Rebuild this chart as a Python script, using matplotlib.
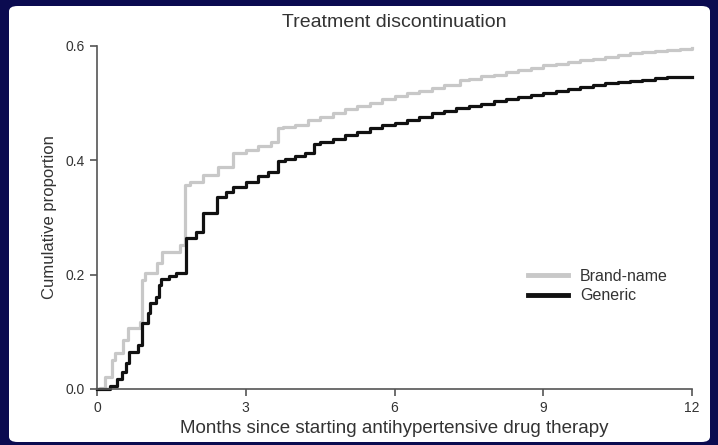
import matplotlib
matplotlib.use('Agg')
import matplotlib.pyplot as plt
from matplotlib.patches import FancyBboxPatch

# Cumulative proportion of treatment discontinuation
brand_t = [0, 0.06, 0.16, 0.30, 0.36, 0.52, 0.63, 0.87, 0.91, 0.97, 1.21, 1.31, 1.67, 1.77,
           1.88, 2.14, 2.44, 2.74, 3.0, 3.25, 3.5, 3.65, 3.75, 4.0, 4.25, 4.5, 4.75, 5.0, 5.25,
           5.5, 5.75, 6.0, 6.25, 6.5, 6.75, 7.0, 7.32, 7.5, 7.75, 8.0, 8.25, 8.5, 8.75, 9.0,
           9.25, 9.5, 9.75, 10.0, 10.25, 10.5, 10.75, 11.0, 11.25, 11.5, 11.75, 12.0]
brand_y = [0, 0.002, 0.021, 0.051, 0.063, 0.086, 0.107, 0.117, 0.19, 0.203, 0.220, 0.24, 0.252, 0.357,
           0.362, 0.375, 0.388, 0.413, 0.418, 0.425, 0.432, 0.456, 0.458, 0.462, 0.47, 0.476, 0.483, 0.489, 0.495,
           0.501, 0.507, 0.513, 0.518, 0.522, 0.527, 0.531, 0.54, 0.543, 0.547, 0.55, 0.554, 0.558, 0.562, 0.566,
           0.569, 0.572, 0.575, 0.578, 0.581, 0.584, 0.587, 0.589, 0.591, 0.593, 0.595, 0.597]

generic_t = [0, 0.26, 0.40, 0.50, 0.58, 0.64, 0.83, 0.90, 1.03, 1.07, 1.18, 1.25, 1.30, 1.45, 1.6,
             1.79, 2.0, 2.14, 2.42, 2.6, 2.74, 3.0, 3.25, 3.45, 3.65, 3.8, 4.0, 4.2, 4.38, 4.5,
             4.75, 5.0, 5.25, 5.5, 5.75, 6.0, 6.25, 6.5, 6.75, 7.0, 7.25, 7.5, 7.75, 8.0, 8.25,
             8.5, 8.75, 9.0, 9.25, 9.5, 9.75, 10.0, 10.25, 10.5, 10.75, 11.0, 11.25, 11.5, 12.0]
generic_y = [0, 0.006, 0.018, 0.03, 0.045, 0.065, 0.077, 0.115, 0.133, 0.15, 0.161, 0.182, 0.193, 0.198, 0.203,
             0.264, 0.275, 0.308, 0.336, 0.345, 0.353, 0.362, 0.372, 0.38, 0.398, 0.402, 0.407, 0.412, 0.428, 0.432,
             0.438, 0.444, 0.45, 0.456, 0.461, 0.466, 0.471, 0.476, 0.482, 0.487, 0.491, 0.495, 0.499, 0.503, 0.507,
             0.51, 0.514, 0.518, 0.522, 0.525, 0.529, 0.532, 0.535, 0.537, 0.539, 0.541, 0.544, 0.546, 0.546]

x_ticks = [0, 3, 6, 9, 12]
y_ticks = [0.0, 0.2, 0.4, 0.6]

plt.rcParams['font.family'] = ['Liberation Sans', 'DejaVu Sans']
txt = '#333333'

fig = plt.figure(figsize=(7.18, 4.45), dpi=100)
fig.patch.set_facecolor('#0b0b50')

# white slide panel, drawn on a background axes
bg = fig.add_axes([0, 0, 1, 1], zorder=-1)
bg.axis('off')
bg.add_patch(FancyBboxPatch((9 / 718, 3 / 445), 701 / 718, 436 / 445,
                            boxstyle='round,pad=0,rounding_size=0.012',
                            transform=bg.transAxes, facecolor='white', edgecolor='none'))

ax = fig.add_axes([97 / 718, 1 - 389 / 445, 595 / 718, 343 / 445], zorder=1)
ax.set_facecolor('none')

ax.step(brand_t, brand_y, where='post', color='#c8c8c8', lw=2.3, label='Brand-name', clip_on=False)
ax.step(generic_t, generic_y, where='post', color='#111111', lw=2.3, label='Generic', clip_on=False)

ax.set_xlim(0, 12)
ax.set_ylim(0, 0.6)
ax.set_xticks(x_ticks)
ax.set_yticks(y_ticks)
ax.set_yticklabels(['%.1f' % v for v in y_ticks])

for s in ['top', 'right']:
    ax.spines[s].set_visible(False)
for s in ['left', 'bottom']:
    ax.spines[s].set_color('#555555')
    ax.spines[s].set_linewidth(1.2)
ax.tick_params(direction='out', length=5, width=1.2, color='#555555', labelcolor=txt, labelsize=10)

ax.set_title('Treatment discontinuation', fontsize=14, color=txt, pad=14)
ax.set_xlabel('Months since starting antihypertensive drug therapy', fontsize=13.5, color=txt, labelpad=4)
ax.set_ylabel('Cumulative proportion', fontsize=12, color=txt, labelpad=6)

leg = ax.legend(loc='center left', bbox_to_anchor=(528 / 718, 1 - 286 / 445),
                bbox_transform=fig.transFigure, frameon=False, fontsize=11.5,
                handlelength=2.5, handletextpad=0.75, labelspacing=0.3, borderpad=0,
                borderaxespad=0)
for line in leg.get_lines():
    line.set_linewidth(3.5)
for t in leg.get_texts():
    t.set_color(txt)

fig.savefig('out.png', dpi=100, facecolor=fig.get_facecolor())
